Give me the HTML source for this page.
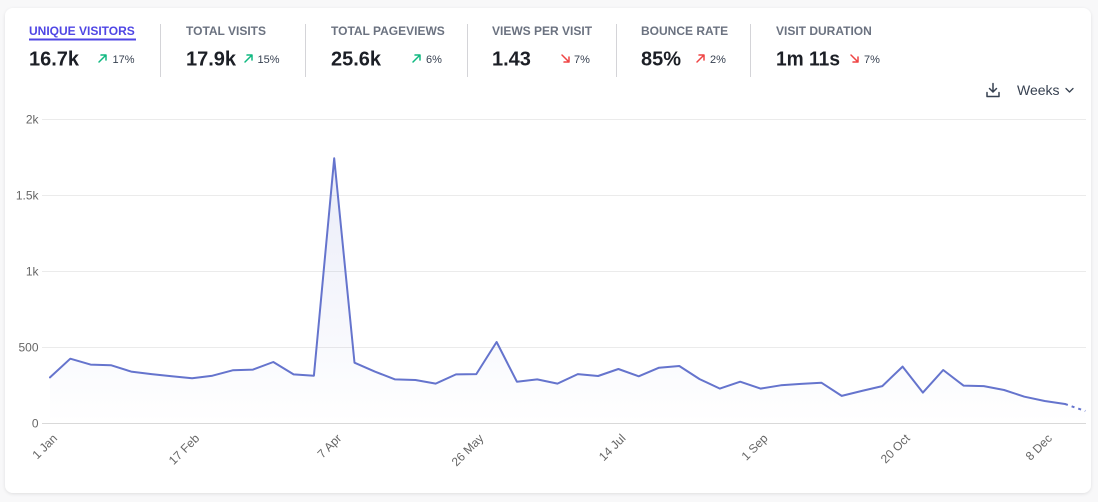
<!DOCTYPE html>
<html>
<head>
<meta charset="utf-8">
<style>
  html, body { margin: 0; padding: 0; background: #f8f8f9; }
  body { width: 1098px; height: 502px; overflow: hidden; }
  svg { display: block; font-family: "Liberation Sans", sans-serif; }
</style>
</head>
<body>
<svg width="1098" height="502" viewBox="0 0 1098 502" xmlns="http://www.w3.org/2000/svg">
  <defs>
    <filter id="sh" x="-5%" y="-5%" width="110%" height="110%">
      <feDropShadow dx="0" dy="1" stdDeviation="1.5" flood-color="#000" flood-opacity="0.10"/>
    </filter>
    <linearGradient id="fillg" gradientUnits="userSpaceOnUse" x1="0" y1="119" x2="0" y2="423">
      <stop offset="0" stop-color="rgb(101,116,205)" stop-opacity="0.16"/>
      <stop offset="1" stop-color="rgb(101,116,205)" stop-opacity="0"/>
    </linearGradient>
  </defs>

  <rect x="0" y="0" width="1098" height="502" fill="#f8f8f9"/>
  <rect x="5" y="8" width="1086" height="485" rx="8" ry="8" fill="#ffffff" filter="url(#sh)"/>

  <!-- Top stats -->
  <g font-weight="bold" font-size="12">
    <text x="29" y="35" fill="#4f46e5">UNIQUE VISITORS</text>
    <text x="186" y="35" fill="#6b7280">TOTAL VISITS</text>
    <text x="331" y="35" fill="#6b7280">TOTAL PAGEVIEWS</text>
    <text x="492" y="35" fill="#6b7280">VIEWS PER VISIT</text>
    <text x="641" y="35" fill="#6b7280">BOUNCE RATE</text>
    <text x="776" y="35" fill="#6b7280">VISIT DURATION</text>
  </g>
  <rect x="29" y="38.5" width="107" height="2" fill="#4f46e5"/>

  <g font-weight="bold" font-size="20" fill="#1c1f26">
    <text x="29" y="65.5">16.7k</text>
    <text x="186" y="65.5">17.9k</text>
    <text x="331" y="65.5">25.6k</text>
    <text x="492" y="65.5">1.43</text>
    <text x="641" y="65.5">85%</text>
    <text x="776" y="65.5" textLength="64" lengthAdjust="spacingAndGlyphs">1m 11s</text>
  </g>

  <g font-size="11" fill="#374151">
    <text x="112.5" y="63">17%</text>
    <text x="257.5" y="63">15%</text>
    <text x="426" y="63">6%</text>
    <text x="574" y="63">7%</text>
    <text x="710" y="63">2%</text>
    <text x="864" y="63">7%</text>
  </g>

  <!-- arrows -->
  <g fill="none" stroke-width="1.5" stroke-linecap="round" stroke-linejoin="round">
    <path d="M99 62 L106 55 M101 55 H106 V60" stroke="#10b981"/>
    <path d="M245 62 L252 55 M247 55 H252 V60" stroke="#10b981"/>
    <path d="M413 62 L420 55 M415 55 H420 V60" stroke="#10b981"/>
    <path d="M562 55 L569 62 M569 57 V62 H564" stroke="#ef4444"/>
    <path d="M697 62 L704 55 M699 55 H704 V60" stroke="#ef4444"/>
    <path d="M851 55 L858 62 M858 57 V62 H853" stroke="#ef4444"/>
  </g>

  <!-- dividers -->
  <g stroke="#d4d4d8" stroke-width="1">
    <line x1="160.5" y1="24" x2="160.5" y2="77"/>
    <line x1="305.5" y1="24" x2="305.5" y2="77"/>
    <line x1="467.5" y1="24" x2="467.5" y2="77"/>
    <line x1="616.5" y1="24" x2="616.5" y2="77"/>
    <line x1="750.5" y1="24" x2="750.5" y2="77"/>
  </g>

  <!-- download icon + Weeks -->
  <g fill="none" stroke="#374151" stroke-width="1.5" stroke-linecap="round" stroke-linejoin="round">
    <path d="M993 83.5 V92 M989.5 88.5 L993 92 L996.5 88.5"/>
    <path d="M987 92.5 V96.5 H999 V92.5"/>
    <path d="M1066 88.5 L1069.5 92 L1073 88.5" stroke-width="1.3"/>
  </g>
  <text x="1017" y="95" font-size="14" fill="#374151">Weeks</text>

  <!-- grid -->
  <g stroke="#ebebeb" stroke-width="1">
    <line x1="42" y1="119.5" x2="1086" y2="119.5"/>
    <line x1="42" y1="195.5" x2="1086" y2="195.5"/>
    <line x1="42" y1="271.5" x2="1086" y2="271.5"/>
    <line x1="42" y1="347.5" x2="1086" y2="347.5"/>
  </g>
  <line x1="42" y1="423.5" x2="1086" y2="423.5" stroke="#d9d9d9" stroke-width="1"/>

  <!-- y labels -->
  <g font-size="12" fill="#666666" text-anchor="end">
    <text x="38.5" y="123.5">2k</text>
    <text x="38.5" y="199.5">1.5k</text>
    <text x="38.5" y="275.5">1k</text>
    <text x="38.5" y="351.5">500</text>
    <text x="38.5" y="427.5">0</text>
  </g>

  <!-- x labels -->
  <g font-size="12" fill="#666666" text-anchor="end">
    <text transform="translate(58,439) rotate(-45)">1 Jan</text>
    <text transform="translate(200.1,439) rotate(-45)">17 Feb</text>
    <text transform="translate(342.2,439) rotate(-45)">7 Apr</text>
    <text transform="translate(484.3,439) rotate(-45)">26 May</text>
    <text transform="translate(626.4,439) rotate(-45)">14 Jul</text>
    <text transform="translate(768.5,439) rotate(-45)">1 Sep</text>
    <text transform="translate(910.6,439) rotate(-45)">20 Oct</text>
    <text transform="translate(1052.7,439) rotate(-45)">8 Dec</text>
  </g>

  <!-- area fill -->
  <polygon fill="url(#fillg)" points="50,423 50,377.4 70.3,358.7 90.6,364.6 110.9,365.2 131.2,371.6 151.5,374.1 171.8,376.3 192.1,378.3 212.4,375.7 232.7,370.3 253,369.6 273.3,362 293.6,374.4 313.9,375.7 334.2,158.3 354.5,362.7 374.8,371.6 395.1,379.4 415.4,380 435.7,383.6 456,374.4 476.3,374.1 496.6,342 516.9,381.7 537.2,379.4 557.5,383.6 577.8,374.1 598.1,376 618.4,369 638.7,376.3 659,367.7 679.3,366 699.6,379.1 719.9,388.6 740.2,381.7 760.5,388.6 780.8,385.3 801.1,383.9 821.4,382.7 841.7,395.9 862,390.9 882.3,386.1 902.6,366.6 922.9,392.6 943.2,370 963.5,385.6 983.8,386.1 1004.1,390 1024.4,396.7 1044.7,401 1065,404 1085.3,411 1085.3,423"/>

  <!-- line -->
  <polyline fill="none" stroke="#6574cd" stroke-width="2" stroke-linejoin="round" stroke-linecap="round" points="50,377.4 70.3,358.7 90.6,364.6 110.9,365.2 131.2,371.6 151.5,374.1 171.8,376.3 192.1,378.3 212.4,375.7 232.7,370.3 253,369.6 273.3,362 293.6,374.4 313.9,375.7 334.2,158.3 354.5,362.7 374.8,371.6 395.1,379.4 415.4,380 435.7,383.6 456,374.4 476.3,374.1 496.6,342 516.9,381.7 537.2,379.4 557.5,383.6 577.8,374.1 598.1,376 618.4,369 638.7,376.3 659,367.7 679.3,366 699.6,379.1 719.9,388.6 740.2,381.7 760.5,388.6 780.8,385.3 801.1,383.9 821.4,382.7 841.7,395.9 862,390.9 882.3,386.1 902.6,366.6 922.9,392.6 943.2,370 963.5,385.6 983.8,386.1 1004.1,390 1024.4,396.7 1044.7,401 1065,404"/>
  <line x1="1065" y1="404" x2="1085.3" y2="411" stroke="#6574cd" stroke-width="2" stroke-dasharray="3 4"/>
</svg>
</body>
</html>
